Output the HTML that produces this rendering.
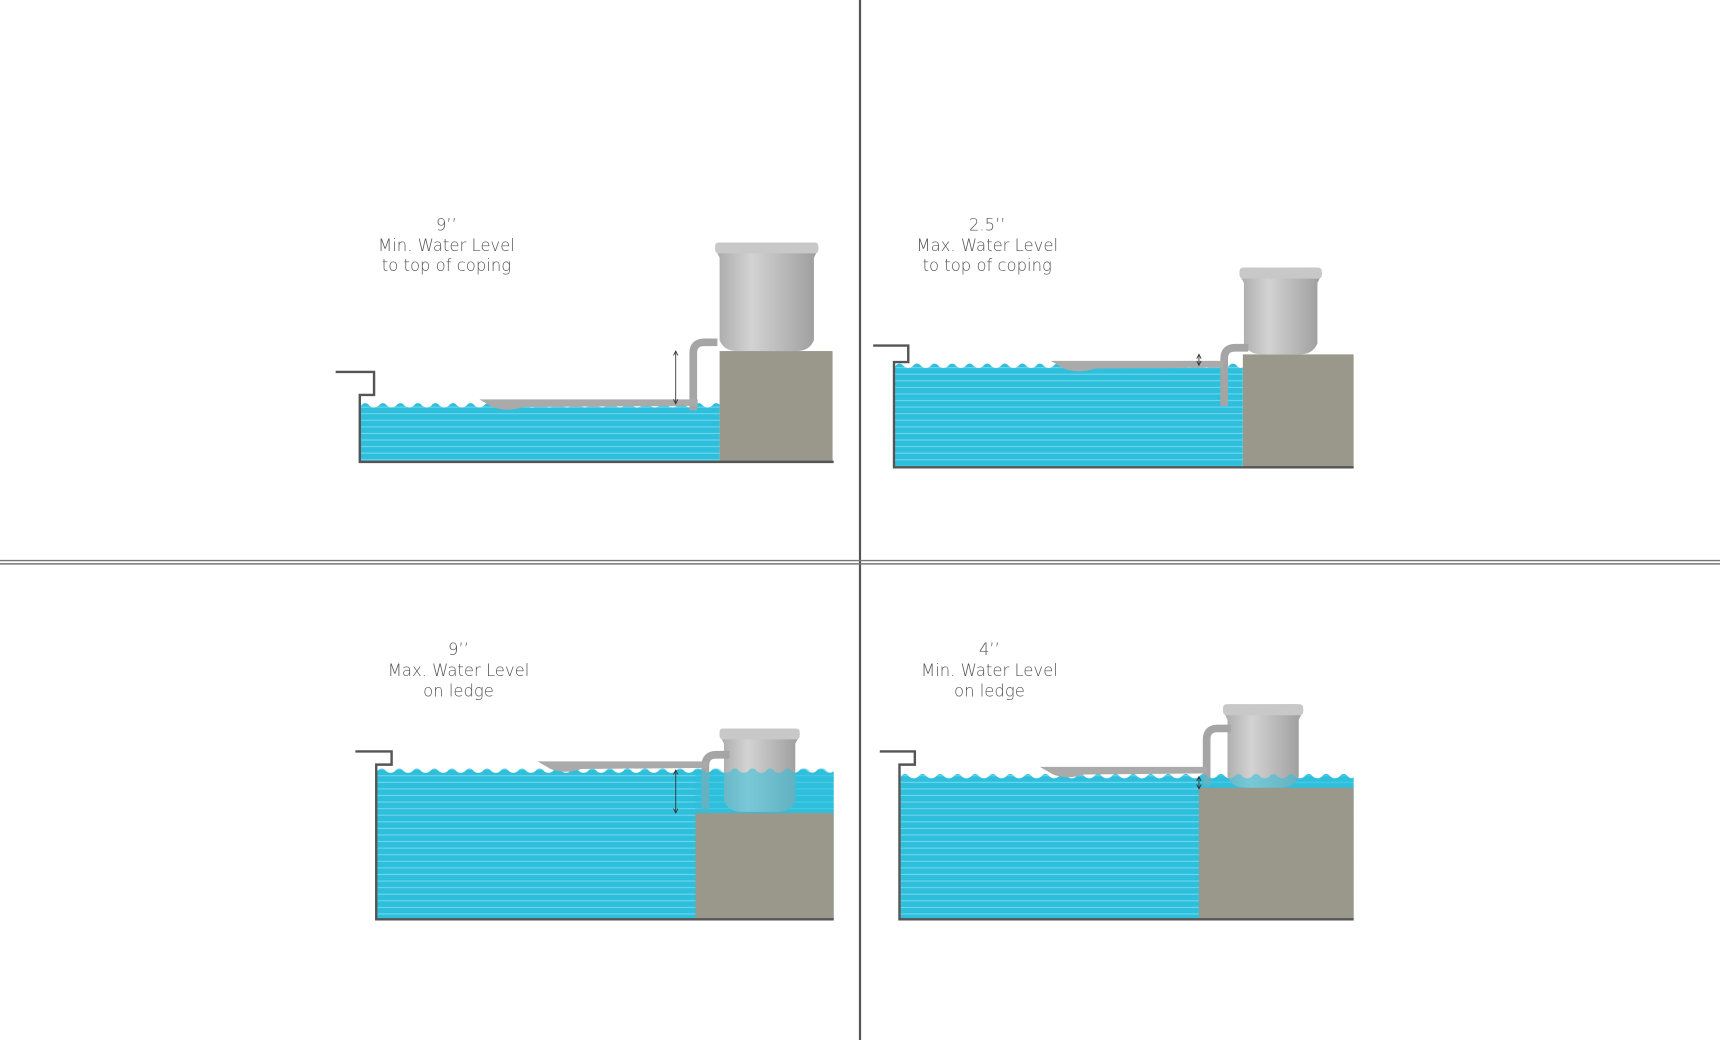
<!DOCTYPE html>
<html><head><meta charset="utf-8"><style>
html,body{margin:0;padding:0;background:#fff;width:1720px;height:1040px;overflow:hidden}
svg{display:block}
text{font-family:"DejaVu Sans","Liberation Sans",sans-serif;font-weight:200;font-size:15px;fill:#555;text-anchor:middle}
</style></head><body>
<svg id="s" width="1720" height="1040" viewBox="0 0 1568 948" preserveAspectRatio="none" xmlns="http://www.w3.org/2000/svg">
<defs>
<pattern id="stripes" width="10" height="6" patternUnits="userSpaceOnUse">
<rect width="10" height="6" fill="#2ebfdc"/><rect y="4.6" width="10" height="1" fill="#6fd6ec"/>
</pattern>
<linearGradient id="cup" x1="0" x2="1"><stop offset="0" stop-color="#a9a9a9"/><stop offset=".35" stop-color="#d3d3d3"/><stop offset="1" stop-color="#9c9c9c"/></linearGradient>
</defs>
<line x1="784" y1="0" x2="784" y2="948" stroke="#555" stroke-width="2"/>
<line x1="0" y1="511" x2="1568" y2="511" stroke="#777" stroke-width="1.3"/>
<line x1="0" y1="514" x2="1568" y2="514" stroke="#777" stroke-width="1.3"/>
<g id="g"></g>
<text x="407" y="210">9’’</text><text x="407" y="229">Min. Water Level</text><text x="407" y="247">to top of coping</text>
<text x="900" y="210">2.5’’</text><text x="900" y="229">Max. Water Level</text><text x="900" y="247">to top of coping</text>
<text x="418" y="597">9’’</text><text x="418" y="616">Max. Water Level</text><text x="418" y="635">on ledge</text>
<text x="902" y="597">4’’</text><text x="902" y="616">Min. Water Level</text><text x="902" y="635">on ledge</text>
</svg>
<script>
const NS="http://www.w3.org/2000/svg",g=document.getElementById('g');
function el(t,a){const e=document.createElementNS(NS,t);for(const k in a)e.setAttribute(k,a[k]);g.appendChild(e);return e}
function waves(x1,x2,top,bot){
 let d=`M${x1},${bot} L${x1},${top}`;
 for(let x=x1;x<x2;x+=16){d+=` Q${x+4},${top-5} ${x+8},${top} Q${x+12},${top+3} ${Math.min(x+16,x2)},${top}`}
 return d+` L${x2},${bot} Z`;
}
function panel(p){
 el('path',{d:waves(p.wx1,p.wx2,p.wt,p.wb),fill:'url(#stripes)'});
 el('rect',{x:p.bx1,y:p.by,width:p.bx2-p.bx1,height:p.wb-p.by+1,fill:'#9a978b'});
 el('path',{d:`M${p.cx1},${p.cy+6} Q${p.cx1},${p.cy} ${p.cx1+6},${p.cy} L${p.cx2-6},${p.cy} Q${p.cx2},${p.cy} ${p.cx2},${p.cy+6} L${p.cx2-4},${p.cy+14} L${p.cx2-4},${p.cb-10} Q${p.cx2-8},${p.cb} ${p.cx2-20},${p.cb} L${p.cx1+20},${p.cb} Q${p.cx1+8},${p.cb} ${p.cx1+4},${p.cb-10} L${p.cx1+4},${p.cy+14} Z`,fill:'url(#cup)'});
 el('rect',{x:p.cx1,y:p.cy,width:p.cx2-p.cx1,height:10,rx:3,fill:'#c8c8c8'});
 el('path',{d:`M${p.px},${p.pb} L${p.px},${p.pt+10} Q${p.px},${p.pt} ${p.px+10},${p.pt} L${p.px+22},${p.pt}`,fill:'none',stroke:'#a5a5a5','stroke-width':7});
 el('path',{d:`M${p.fx1},${p.fy} L${p.fx2},${p.fy} L${p.fx2},${p.fy+6} L${p.fx1+40},${p.fy+7} Q${p.fx1+25},${p.fy+12} ${p.fx1+12},${p.fy+7} Z`,fill:'#aaa'});
 if(p.over){el('path',{d:waves(p.ox1,p.wx2,p.wt,p.by),fill:'#2ebfdc','fill-opacity':0.55});}
 el('line',{x1:p.ax,y1:p.ay1,x2:p.ax,y2:p.ay2,stroke:'#333','stroke-width':0.8});
 el('path',{d:`M${p.ax-2},${p.ay1+4} L${p.ax},${p.ay1} L${p.ax+2},${p.ay1+4} M${p.ax-2},${p.ay2-4} L${p.ax},${p.ay2} L${p.ax+2},${p.ay2-4}`,fill:'none',stroke:'#333','stroke-width':0.8});
 el('path',{d:`M${p.k0},${p.kt} L${p.k1},${p.kt} L${p.k1},${p.kd} L${p.wx1-1},${p.kd} L${p.wx1-1},${p.wb} L${p.end},${p.wb}`,fill:'none',stroke:'#555','stroke-width':2.2});
}
panel({wx1:329,wx2:656,wt:370,wb:421,bx1:656,bx2:759,by:320,cx1:652,cx2:746,cy:221,cb:320,px:632,pt:312,pb:374,fx1:437,fx2:636,fy:364,ax:616,ay1:320,ay2:368,k0:306,k1:341,kt:339,kd:360,end:760});
panel({wx1:816,wx2:1133,wt:334,wb:426,bx1:1133,bx2:1234,by:323,cx1:1130,cx2:1205,cy:244,cb:323,px:1116,pt:317,pb:370,fx1:958,fx2:1115,fy:329,ax:1093,ay1:323,ay2:333,k0:796,k1:828,kt:315,kd:330,end:1234});
panel({wx1:344,wx2:760,wt:703,wb:838,bx1:634,bx2:760,by:741,cx1:656,cx2:729,cy:664,cb:740,px:643,pt:688,pb:738,fx1:490,fx2:645,fy:694,ax:616,ay1:702,ay2:741,k0:324,k1:357,kt:685,kd:697,end:760,over:1,ox1:634});
panel({wx1:821,wx2:1234,wt:708,wb:838,bx1:1093,bx2:1234,by:718,cx1:1115,cx2:1188,cy:642,cb:718,px:1100,pt:664,pb:716,fx1:948,fx2:1100,fy:699,ax:1093,ay1:708,ay2:719,k0:802,k1:834,kt:685,kd:697,end:1234,over:1,ox1:1093});
</script>
</body></html>
